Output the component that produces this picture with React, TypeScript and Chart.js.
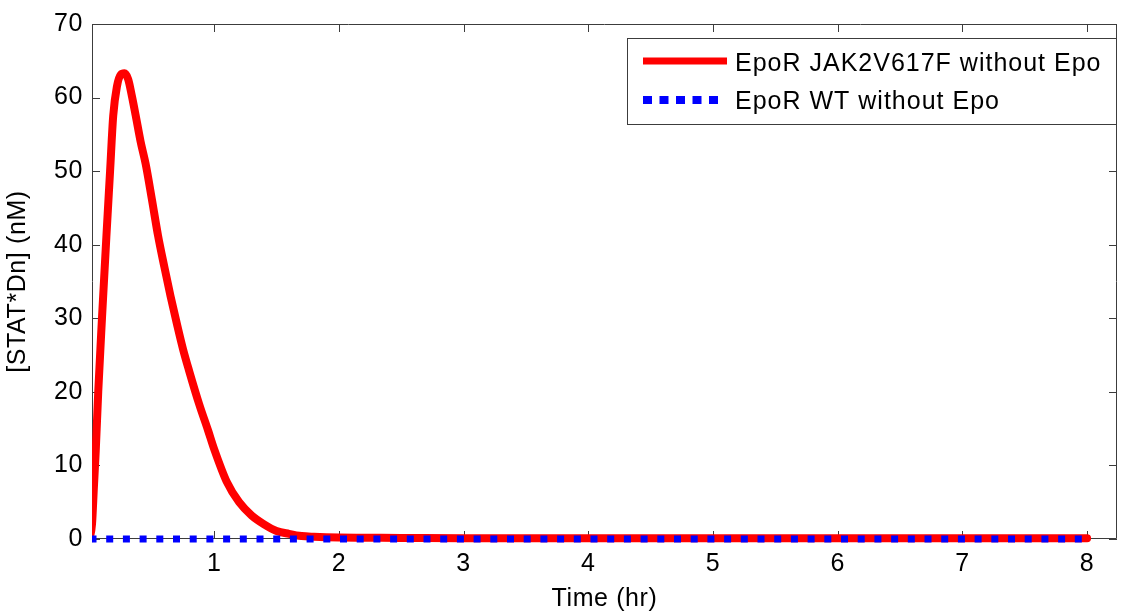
import React, { useEffect, useRef } from "react";
import { Chart, registerables } from "chart.js";

Chart.register(...registerables);

const redLabel = "EpoR JAK2V617F without Epo";
const blueLabel = "EpoR WT without Epo";

const redTimes = [0, 0.02, 0.035, 0.05, 0.07, 0.1, 0.135, 0.165, 0.19, 0.22, 0.25, 0.28, 0.31, 0.34, 0.37, 0.41, 0.45, 0.5, 0.55, 0.6, 0.65, 0.7, 0.75, 0.8, 0.88, 0.95, 1.0, 1.1, 1.2, 1.3, 1.4, 1.5, 1.6, 1.7, 1.8, 2.0, 2.5, 3, 4, 5, 6, 7, 8];
const redValues = [0, 2, 7, 12, 20, 30, 41, 50, 57.5, 61.5, 63.1, 63.3, 62.5, 60.2, 57.6, 54, 51, 46.2, 41.2, 37, 33, 29.3, 25.8, 22.8, 18.3, 14.8, 12.2, 7.8, 5.0, 3.2, 2.0, 1.1, 0.7, 0.4, 0.3, 0.2, 0.15, 0.1, 0.1, 0.1, 0.1, 0.1, 0.1];

const blueTimes = [0, 1, 2, 3, 4, 5, 6, 7, 8];
const blueValues = [0, 0, 0, 0, 0, 0, 0, 0, 0];

const xTickValues = [1, 2, 3, 4, 5, 6, 7, 8];
const yTickValues = [0, 10, 20, 30, 40, 50, 60, 70];

const FONT = "'Liberation Sans', Arial, sans-serif";
const AXIS_COLOR = "#3c3c3c";

const framePlugin = {
  id: "frame",
  beforeDraw(chart: any) {
    chart.ctx.letterSpacing = "0.6px";
  },
  beforeDatasetsDraw(chart: any) {
    const { ctx, chartArea } = chart;
    const { left, right, top, bottom } = chartArea;
    const xs = chart.scales.x;
    const ys = chart.scales.y;
    ctx.save();
    ctx.strokeStyle = AXIS_COLOR;
    ctx.lineWidth = 1;
    ctx.beginPath();
    ctx.rect(left + 0.5, top + 0.5, right - left - 1, bottom - top - 1);
    const tl = 8;
    xTickValues.forEach((v) => {
      const px = Math.round(xs.getPixelForValue(v)) + 0.5;
      ctx.moveTo(px, bottom);
      ctx.lineTo(px, bottom - tl);
      ctx.moveTo(px, top);
      ctx.lineTo(px, top + tl);
    });
    yTickValues.forEach((v) => {
      const py = Math.round(ys.getPixelForValue(v)) + 0.5;
      ctx.moveTo(left, py);
      ctx.lineTo(left + tl, py);
      ctx.moveTo(right, py);
      ctx.lineTo(right - tl, py);
    });
    ctx.stroke();
    ctx.restore();
  },
  afterDraw(chart: any) {
    const { ctx, chartArea } = chart;
    const ds = chart.data.datasets;
    const bx = 627;
    const by = 38;
    const bw = chartArea.right - 1 - bx;
    const bh = 86;
    ctx.save();
    ctx.fillStyle = "#ffffff";
    ctx.fillRect(bx, by, bw, bh);
    ctx.strokeStyle = AXIS_COLOR;
    ctx.lineWidth = 1;
    ctx.strokeRect(bx + 0.5, by + 0.5, bw, bh);

    // red sample
    ctx.beginPath();
    ctx.strokeStyle = ds[0].borderColor;
    ctx.lineWidth = 7;
    ctx.lineCap = "butt";
    ctx.moveTo(643, 61);
    ctx.lineTo(727, 61);
    ctx.stroke();

    // blue sample
    ctx.beginPath();
    ctx.strokeStyle = ds[1].borderColor;
    ctx.lineWidth = 8;
    ctx.setLineDash([9, 7.5]);
    ctx.moveTo(643, 100);
    ctx.lineTo(718, 100);
    ctx.stroke();
    ctx.setLineDash([]);

    ctx.fillStyle = "#000000";
    ctx.font = `25px ${FONT}`;
    ctx.letterSpacing = "1px";
    ctx.textAlign = "left";
    ctx.textBaseline = "alphabetic";
    ctx.fillText(ds[0].label, 735, 71);
    ctx.fillText(ds[1].label, 735, 109);
    ctx.restore();
  },
};

export default function App() {
  const canvasRef = useRef<HTMLCanvasElement | null>(null);

  useEffect(() => {
    if (!canvasRef.current) return;
    const redData = redTimes.map((t, i) => ({ x: t, y: redValues[i] }));
    const blueData = blueTimes.map((t, i) => ({ x: t, y: blueValues[i] }));
    const chart = new Chart(canvasRef.current, {
      type: "line",
      data: {
        datasets: [
          {
            label: redLabel,
            data: redData,
            borderColor: "#ff0000",
            backgroundColor: "#ff0000",
            borderWidth: 8,
            pointRadius: 0,
            cubicInterpolationMode: "monotone",
            borderCapStyle: "round",
            borderJoinStyle: "round",
            order: 2,
            clip: { left: 0, right: 5, top: 5, bottom: 5 },
          } as any,
          {
            label: blueLabel,
            data: blueData,
            borderColor: "#0000ff",
            backgroundColor: "#0000ff",
            borderWidth: 7,
            borderDash: [7, 9.7],
            borderCapStyle: "butt",
            pointRadius: 0,
            order: 1,
            clip: { left: 0, right: 5, top: 5, bottom: 5 },
          } as any,
        ],
      },
      options: {
        animation: false,
        responsive: true,
        maintainAspectRatio: false,
        layout: { padding: { top: 23, right: 7, left: 0, bottom: 0 } },
        plugins: {
          legend: { display: false },
          tooltip: { enabled: false },
        },
        scales: {
          x: {
            type: "linear",
            min: 0.02,
            max: 8.24,
            afterBuildTicks: (scale: any) => {
              scale.ticks = xTickValues.map((v) => ({ value: v }));
            },
            afterFit: (scale: any) => {
              scale.height = 73;
            },
            grid: { display: false, drawTicks: false, tickLength: 0 },
            border: { display: false },
            ticks: {
              color: "#000000",
              font: { family: FONT, size: 25 },
              padding: 10,
              maxRotation: 0,
              autoSkip: false,
              callback: (v: any) => String(v),
            },
            title: {
              display: true,
              text: "Time (hr)",
              color: "#000000",
              font: { family: FONT, size: 25, lineHeight: 1 },
              padding: { top: 1.5, bottom: 0 },
            },
          },
          y: {
            type: "linear",
            min: 0,
            max: 70,
            afterBuildTicks: (scale: any) => {
              scale.ticks = yTickValues.map((v) => ({ value: v }));
            },
            afterFit: (scale: any) => {
              scale.width = 92;
            },
            grid: { display: false, drawTicks: false, tickLength: 0 },
            border: { display: false },
            ticks: {
              color: "#000000",
              font: { family: FONT, size: 25 },
              padding: 9,
              autoSkip: false,
              callback: (v: any) => String(v),
            },
            title: {
              display: true,
              text: "[STAT*Dn] (nM)",
              color: "#000000",
              font: { family: FONT, size: 25, lineHeight: 1 },
              padding: { top: 5.5, bottom: 0 },
            },
          },
        },
      },
      plugins: [framePlugin],
    });
    return () => chart.destroy();
  }, []);

  return (
    <div style={{ position: "absolute", left: 0, top: 0, width: 1124, height: 612, background: "#ffffff" }}>
      <canvas ref={canvasRef} />
    </div>
  );
}
